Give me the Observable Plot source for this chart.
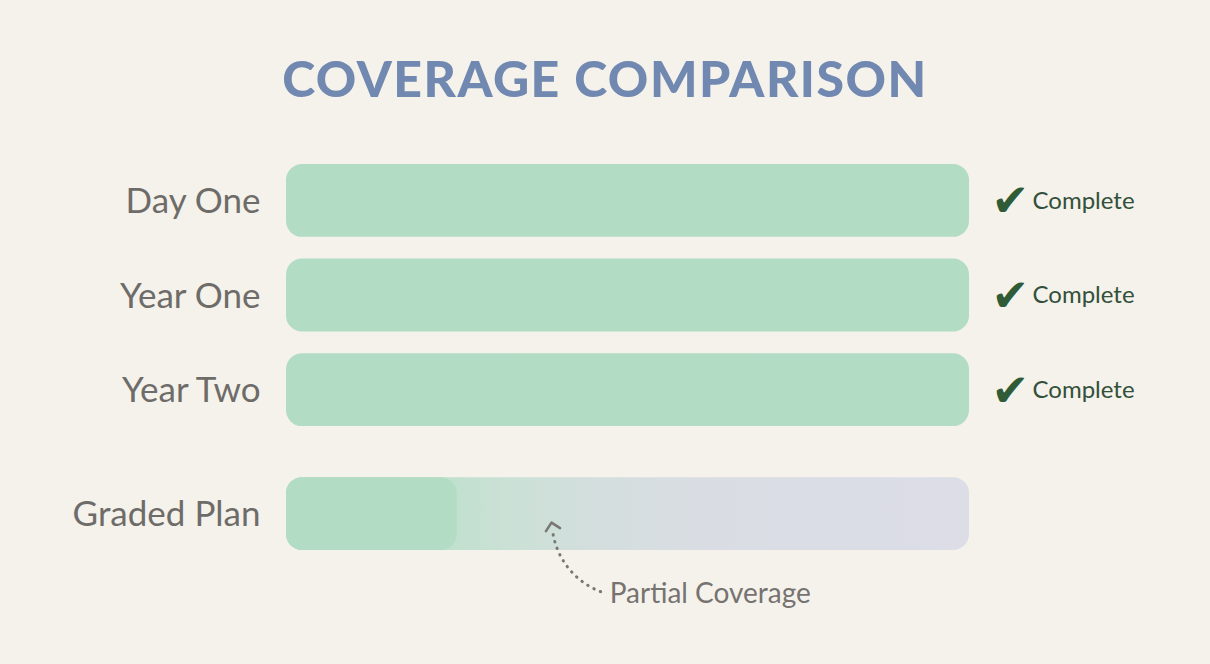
<!DOCTYPE html>
<html>
<head>
<meta charset="utf-8">
<script src="https://cdn.jsdelivr.net/npm/d3@7"></script>
<script src="https://cdn.jsdelivr.net/npm/@observablehq/plot@0.6"></script>
<style>
  html, body { margin: 0; padding: 0; background: #f5f2ec; width: 1210px; height: 664px; overflow: hidden; }
  #title { height: 140px; margin: 0; font-family: Lato, sans-serif; font-weight: 900; font-size: 50px;
           color: #7189b1; text-align: center; line-height: 156px; letter-spacing: 1.5px; }
  svg { display: block; }
</style>
</head>
<body>
<div id="title">COVERAGE COMPARISON</div>
<div id="chart"></div>
<script>
// ---- data ----
const plans = ["Day One", "Year One", "Year Two", "Graded Plan"];
const coverage = [100, 100, 100, 25];          // % of full coverage
const status = ["Complete", "Complete", "Complete", ""];
const annotation = "Partial Coverage";

// ---- layout helpers (derived, not data) ----
const groupGap = 0.31;                          // extra space before the graded plan
const rowPos = plans.map((p, i) => i + (i >= 3 ? groupGap : 0));
const half = 0.385;
const rows = plans.map((plan, i) => ({plan, value: coverage[i], status: status[i], pos: rowPos[i]}));
const graded = rows[3];

const green = "#b2dcc3";

// open chevron arrowhead with its tip at the anchor point
const chevron = {
  draw(context, l) {
    const w = l * 0.72;
    context.moveTo(-w, w);
    context.lineTo(0, 0);
    context.lineTo(w, w);
  }
};

const chart = Plot.plot({
  width: 1210,
  height: 524,
  marginLeft: 286,
  marginRight: 241,
  marginTop: 0,
  marginBottom: 0,
  style: {background: "transparent", overflow: "visible"},
  x: {domain: [0, 100], axis: null},
  y: {domain: [-half, rowPos[3] + half], range: [24, 410], axis: null},
  marks: [
    // full tracks (graded gets gradient)
    Plot.rect(rows, {
      x1: 0, x2: 100,
      y1: d => d.pos - half, y2: d => d.pos + half,
      fill: d => d.value >= 100 ? green : "url(#partialGrad)",
      rx: 16
    }),
    // partial coverage solid block
    Plot.rect(rows.filter(d => d.value < 100), {
      x1: 0, x2: "value",
      y1: d => d.pos - half, y2: d => d.pos + half,
      fill: green, rx: 16
    }),
    // plan labels
    Plot.text(rows, {
      x: 0, y: "pos", text: "plan", textAnchor: "end", dx: -26, dy: 1,
      fontSize: 35, fontFamily: "Lato, sans-serif", fill: "#6e6c69"
    }),
    // check marks
    Plot.text(rows.filter(d => d.status), {
      x: 100, y: "pos", text: () => "\u2714", textAnchor: "start", dx: 22, dy: 1,
      fontSize: 45, fontFamily: "DejaVu Sans", fill: "#2f5b37"
    }),
    Plot.text(rows.filter(d => d.status), {
      x: 100, y: "pos", text: "status", textAnchor: "start", dx: 63, dy: 0,
      fontSize: 24, fontFamily: "Lato, sans-serif", fill: "#33503a"
    }),
    // annotation: dotted curve
    Plot.arrow([graded], {
      x1: d => d.value + 21, y1: d => d.pos + 0.82,
      x2: d => d.value + 14, y2: d => d.pos + 0.2,
      bend: 30, headLength: 0,
      stroke: "#7a7874", strokeWidth: 3, strokeDasharray: "0.5,6.5", strokeLinecap: "round"
    }),
    // annotation: arrow head
    Plot.vector([graded], {
      x: d => d.value + 13.8, y: d => d.pos + 0.09,
      length: 10, rotate: -12, anchor: "start", shape: chevron,
      stroke: "#7a7874", strokeWidth: 2.6, strokeLinecap: "round", strokeLinejoin: "round", fill: "none"
    }),
    Plot.text([graded], {
      x: d => d.value + 21, y: d => d.pos + 0.85, text: () => annotation,
      textAnchor: "start", dx: 9, dy: 0,
      fontSize: 28, fontFamily: "Lato, sans-serif", fill: "#767370"
    })
  ]
});

// gradient definition for the partially covered track
const defs = d3.select(chart).insert("defs", ":first-child");
const grad = defs.append("linearGradient").attr("id", "partialGrad")
  .attr("x1", "0%").attr("x2", "100%").attr("y1", "0%").attr("y2", "0%");
[[0, "#b2dcc3"], [0.25, "#c2e0cf"], [0.33, "#cbe1d6"], [0.45, "#d3dedd"], [0.6, "#d9dde3"], [1, "#dcdde7"]]
  .forEach(([o, c]) => grad.append("stop").attr("offset", o).attr("stop-color", c));

document.getElementById("chart").appendChild(chart);
</script>
</body>
</html>
